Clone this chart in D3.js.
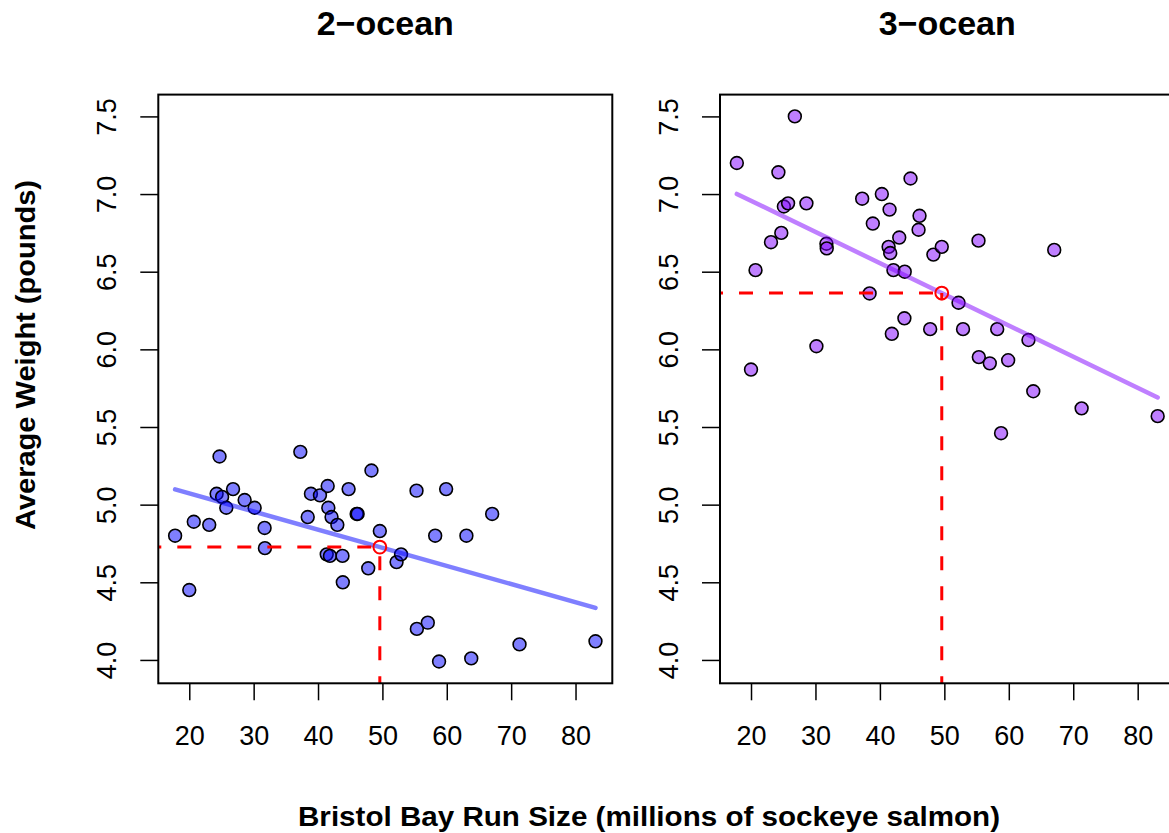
<!DOCTYPE html>
<html>
<head>
<meta charset="utf-8">
<script src="https://cdn.jsdelivr.net/npm/d3@7"></script>
<style>
  body { margin: 0; background: #fff; }
  text { font-family: "Liberation Sans", Arial, Helvetica, sans-serif; }
</style>
</head>
<body>
<script>
// run size (millions of sockeye), one value per year, shared by both panels
const runSize = [17.8, 20.0, 20.7, 23.1, 24.25, 24.7, 25.1, 25.75, 26.8, 28.6,
  30.15, 31.7, 31.75, 37.25, 38.4, 38.9, 40.3, 41.35, 41.5, 41.6,
  41.85, 42.1, 43.0, 43.8, 43.85, 44.75, 46.0, 46.15, 47.8, 48.3,
  49.6, 52.2, 52.9, 55.3, 55.35, 57.05, 58.2, 58.8, 59.9, 63.05,
  63.8, 67.05, 71.3, 83.1];

const weight2 = [4.80, 4.45, 4.89, 4.87, 5.07, 5.31, 5.05, 4.98, 5.10, 5.03,
  4.98, 4.85, 4.72, 5.34, 4.92, 5.07, 5.06, 4.68, 5.12, 4.98,
  4.67, 4.92, 4.87, 4.67, 4.50, 5.10, 4.94, 4.94, 4.59, 5.22,
  4.83, 4.63, 4.68, 5.09, 4.20, 4.24, 4.80, 3.99, 5.10, 4.80,
  4.01, 4.94, 4.10, 4.12];

const weight3 = [7.20, 5.87, 6.51, 6.69, 7.14, 6.75, 6.92, 6.94, 7.50, 6.94,
  6.02, 6.68, 6.65, 6.97, 6.36, 6.81, 7.00, 6.66, 6.90, 6.62,
  6.10, 6.51, 6.72, 6.20, 6.50, 7.10, 6.77, 6.86, 6.13, 6.61,
  6.66, 6.30, 6.13, 6.70, 5.95, 5.91, 6.13, 5.46, 5.93, 6.06,
  5.73, 6.64, 5.62, 5.57];

// fitted lines (intercept, slope)
const fit2 = [5.306, -0.01168];
const fit3 = [7.358, -0.02007];
const predRun = 49.6;

const panelTitles = ["2\u2212ocean", "3\u2212ocean"];
const xTicks = [20, 30, 40, 50, 60, 70, 80];
const yTicks = [4.0, 4.5, 5.0, 5.5, 6.0, 6.5, 7.0, 7.5];

const W = 1169, H = 833;
const plotTop = 94.6, plotBottom = 683.3;

const svg = d3.select("body").append("svg")
  .attr("width", W).attr("height", H);

// R style 4% padding on the ranges
function pad(ext) {
  const r = ext[1] - ext[0];
  return [ext[0] - 0.04 * r, ext[1] + 0.04 * r];
}
const xDom = pad(d3.extent(runSize));
const yDom = pad(d3.extent(weight2.concat(weight3)));

const panels = [
  { left: 158.3, right: 612.3, w: weight2, fit: fit2, fill: "rgba(0,0,255,0.5)" },
  { left: 720, right: 1174.5, w: weight3, fit: fit3, fill: "rgba(128,0,255,0.5)" }
];

panels.forEach((p, k) => {
  const x = d3.scaleLinear().domain(xDom).range([p.left, p.right]);
  const y = d3.scaleLinear().domain(yDom).range([plotBottom, plotTop]);
  const g = svg.append("g");

  const clipId = "clip" + k;
  svg.append("clipPath").attr("id", clipId)
    .append("rect")
    .attr("x", p.left).attr("y", plotTop)
    .attr("width", p.right - p.left).attr("height", plotBottom - plotTop);

  const pts = runSize.map((v, i) => ({ x: v, y: p.w[i] }));

  g.append("g").attr("clip-path", `url(#${clipId})`)
    .selectAll("circle")
    .data(pts)
    .enter().append("circle")
    .attr("cx", d => x(d.x))
    .attr("cy", d => y(d.y))
    .attr("r", 6.4)
    .attr("fill", p.fill)
    .attr("stroke", "#000")
    .attr("stroke-width", 1.6);

  const x0 = d3.min(runSize), x1 = d3.max(runSize);
  g.append("line")
    .attr("x1", x(x0)).attr("y1", y(p.fit[0] + p.fit[1] * x0))
    .attr("x2", x(x1)).attr("y2", y(p.fit[0] + p.fit[1] * x1))
    .attr("stroke", p.fill)
    .attr("stroke-width", 4.5)
    .attr("stroke-linecap", "round");

  const predW = p.fit[0] + p.fit[1] * predRun;
  const dash = g.append("g").attr("clip-path", `url(#${clipId})`);
  dash.append("line")
    .attr("x1", p.left).attr("y1", y(predW))
    .attr("x2", x(predRun)).attr("y2", y(predW))
    .attr("stroke", "red").attr("stroke-width", 3)
    .attr("stroke-dasharray", "14,16").attr("stroke-dashoffset", 11);
  dash.append("line")
    .attr("x1", x(predRun)).attr("y1", plotBottom)
    .attr("x2", x(predRun)).attr("y2", y(predW))
    .attr("stroke", "red").attr("stroke-width", 3)
    .attr("stroke-dasharray", "14,16").attr("stroke-dashoffset", 7);
  g.append("circle")
    .attr("cx", x(predRun)).attr("cy", y(predW))
    .attr("r", 6.4)
    .attr("fill", "none")
    .attr("stroke", "red")
    .attr("stroke-width", 2);

  // axes
  const xAxis = g.append("g")
    .attr("transform", `translate(0,${plotBottom})`)
    .call(d3.axisBottom(x).tickValues(xTicks).tickSize(17).tickPadding(26));
  xAxis.select(".domain").remove();
  xAxis.selectAll("line").attr("stroke-width", 1.5);
  xAxis.selectAll("text")
    .attr("font-size", 27)
    .attr("fill", "#000")
    .attr("font-family", "Liberation Sans, Arial, sans-serif");

  const yAxis = g.append("g")
    .attr("transform", `translate(${p.left},0)`)
    .call(d3.axisLeft(y).tickValues(yTicks).tickSize(18).tickFormat(d3.format(".1f")));
  yAxis.select(".domain").remove();
  yAxis.selectAll("line").attr("stroke-width", 1.5);
  yAxis.selectAll("text")
    .attr("x", null).attr("dy", null)
    .attr("transform", "translate(-42,0) rotate(-90)")
    .attr("text-anchor", "middle")
    .attr("font-size", 27)
    .attr("fill", "#000")
    .attr("font-family", "Liberation Sans, Arial, sans-serif");

  g.append("rect")
    .attr("x", p.left).attr("y", plotTop)
    .attr("width", p.right - p.left).attr("height", plotBottom - plotTop)
    .attr("fill", "none").attr("stroke", "#000").attr("stroke-width", 2);

  g.append("text")
    .attr("x", (p.left + p.right) / 2)
    .attr("y", 35)
    .attr("text-anchor", "middle")
    .attr("font-size", 34)
    .attr("font-weight", "bold")
    .text(panelTitles[k]);
});

svg.append("text")
  .attr("x", 649).attr("y", 826)
  .attr("text-anchor", "middle")
  .attr("font-size", 27)
  .attr("font-weight", "bold")
  .attr("textLength", 702)
  .attr("lengthAdjust", "spacingAndGlyphs")
  .text("Bristol Bay Run Size (millions of sockeye salmon)");

svg.append("text")
  .attr("transform", "translate(35,355) rotate(-90)")
  .attr("text-anchor", "middle")
  .attr("font-size", 27)
  .attr("font-weight", "bold")
  .attr("textLength", 350)
  .attr("lengthAdjust", "spacingAndGlyphs")
  .text("Average Weight (pounds)");
</script>
</body>
</html>
